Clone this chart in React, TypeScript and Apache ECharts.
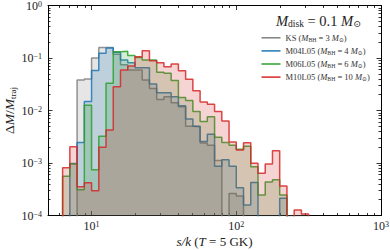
import React, { useEffect, useRef } from "react";
import * as echarts from "echarts";

// log10 of histogram bin edges (s/k), 0.05 dex bins
const binEdgesLog10 = [
  0.8, 0.85, 0.9, 0.95, 1.0, 1.05, 1.1, 1.15, 1.2, 1.25, 1.3, 1.35, 1.4, 1.45,
  1.5, 1.55, 1.6, 1.65, 1.7, 1.75, 1.8, 1.85, 1.9, 1.95, 2.0, 2.05, 2.1, 2.15,
  2.2, 2.25, 2.3, 2.35, 2.4, 2.45, 2.5,
];

const seriesNames = ["KS", "M04L05", "M06L05", "M10L05"];
const bhMasses = ["3", "4", "6", "10"];
const seriesColors = ["#808080", "#1f77b4", "#2ca02c", "#d62728"];

// log10(ΔM/M_traj) per bin (null = empty bin)
const ksLog = [
  null, null, -1.42, -1.4, -1.0, -0.8, -0.8, -0.93, -1.13, -1.23, -1.23, -1.42,
  -1.58, -1.79, -1.74, -1.85, -1.93, -2.3, -2.31, -2.62, -2.66, -2.95, null,
  -3.58, -3.63, null, null, null, null, null, null, null, null, null,
];
const m04Log = [
  null, -3.01, -2.61, -1.83, -1.24, -0.91, -0.81, -0.89, -1.04, -1.09, -1.185,
  -1.185, -1.495, -1.66, -1.66, -1.74, -1.91, -2.16, -2.3, -2.59, -2.45, -3.06,
  -2.94, -3.06, -3.47, -3.8, -3.37, null, null, null, -3.67, null, null, null,
];
const m06Log = [
  -3.25, -3.02, -3.51, -1.9, -3.13, -2.49, -1.48, -0.88, -0.87, -0.95, -0.99,
  -1.04, -1.04, -1.27, -1.29, -1.43, -1.75, -1.81, -2.02, -2.21, -2.12, -2.51,
  -2.61, -2.66, -2.74, -2.68, -3.07, -3.61, -3.36, -3.32, -3.61, null, null,
  null,
];
const m10Log = [
  -3.09, -2.69, -3.45, -3.375, -3.53, -2.7, -2.37, -1.547, -1.23, -1.15, -0.975,
  -0.861, -1.05, -1.09, -1.166, -1.114, -1.242, -1.406, -1.623, -1.84, -1.88,
  -2.02, -2.2, -2.6, -2.75, -2.613, -3.006, -3.196, -3.02, -2.766, -3.438, null,
  -3.895, -3.97,
];
const allLogs = [ksLog, m04Log, m06Log, m10Log];

const xMajorTicks = [10, 100, 1000];
const xMinorTicks = [
  6, 7, 8, 9, 20, 30, 40, 50, 60, 70, 80, 90, 200, 300, 400, 500, 600, 700, 800,
  900,
];
const yMajorTicks = [1e-4, 1e-3, 1e-2, 1e-1, 1];
const yMinorTicks = [
  2e-4, 3e-4, 4e-4, 5e-4, 6e-4, 7e-4, 8e-4, 9e-4, 2e-3, 3e-3, 4e-3, 5e-3, 6e-3,
  7e-3, 8e-3, 9e-3, 2e-2, 3e-2, 4e-2, 5e-2, 6e-2, 7e-2, 8e-2, 9e-2, 0.2, 0.3,
  0.4, 0.5, 0.6, 0.7, 0.8, 0.9,
];

const SERIF = "'Liberation Serif', 'DejaVu Serif', serif";
const FLOOR = 1e-6;

function buildSteps(logs: (number | null)[]) {
  const pts: number[][] = [[Math.pow(10, binEdgesLog10[0]), FLOOR]];
  logs.forEach((v, i) => {
    pts.push([Math.pow(10, binEdgesLog10[i]), v == null ? FLOOR : Math.pow(10, v)]);
  });
  pts.push([Math.pow(10, binEdgesLog10[logs.length]), FLOOR]);
  return pts;
}

function powLabel(v: number) {
  const e = Math.round(Math.log10(v));
  const s = e < 0 ? "\u2212" + -e : String(e);
  return `{b|10}{s|${s}}`;
}

const labelRich = {
  b: { fontFamily: SERIF, fontSize: 12, lineHeight: 11, color: "#222" },
  s: { fontFamily: SERIF, fontSize: 8, lineHeight: 2, verticalAlign: "top", color: "#222" },
};

export default function App() {
  const ref = useRef<HTMLDivElement>(null);
  useEffect(() => {
    if (!ref.current) return;
    const chart = echarts.init(ref.current, undefined, { renderer: "svg" });

    const tickLine = { color: "#000", width: 0.8 };
    const axisLine = { show: true, onZero: false, lineStyle: { color: "#000", width: 1 } };
    const xCommon = { type: "log", logBase: 10, min: 5, max: 1000, splitLine: { show: false }, minorTick: { show: false } };
    const yCommon = { type: "log", logBase: 10, min: 1e-4, max: 1, splitLine: { show: false }, minorTick: { show: false } };

    const option: any = {
      animation: false,
      grid: { left: 48, right: 9, top: 5.5, bottom: 34.5, containLabel: false, outerBoundsMode: "none" },
      title: {
        text: "{i|M}{sb|disk}{r| = 0.1 }{i|M}{sb|\u2299}",
        left: 271,
        top: 8,
        textStyle: {
          fontWeight: "normal",
          rich: {
            i: { fontFamily: SERIF, fontStyle: "italic", fontWeight: "normal", fontSize: 14.5, lineHeight: 16, color: "#222" },
            r: { fontFamily: SERIF, fontWeight: "normal", fontSize: 14.5, lineHeight: 16, color: "#222" },
            sb: { fontFamily: SERIF, fontWeight: "normal", fontSize: 9.5, lineHeight: 10, verticalAlign: "bottom", color: "#222" },
          },
        },
      },
      legend: {
        show: true,
        orient: "vertical",
        left: 256.5,
        top: 28.3,
        itemWidth: 19,
        itemHeight: 1.5,
        itemGap: 3.6,
        icon: "rect",
        selectedMode: false,
        data: seriesNames,
        formatter: (name: string) => {
          const i = seriesNames.indexOf(name);
          return `{r|${name} (}{i|M}{sb|BH}{r| = ${bhMasses[i]} }{i|M}{sb|\u2299}{r|)}`;
        },
        textStyle: {
          rich: {
            r: { fontFamily: SERIF, fontSize: 8.5, lineHeight: 10, color: "#333" },
            i: { fontFamily: SERIF, fontStyle: "italic", fontSize: 8.5, lineHeight: 10, color: "#333" },
            sb: { fontFamily: SERIF, fontSize: 5.8, lineHeight: 7, verticalAlign: "bottom", color: "#333" },
          },
        },
      },
      xAxis: [
        {
          ...xCommon,
          position: "bottom",
          axisLine,
          axisTick: { show: true, inside: true, length: 4.5, lineStyle: tickLine, customValues: xMajorTicks },
          axisLabel: { show: true, margin: 5, customValues: xMajorTicks, formatter: powLabel, rich: labelRich },
          name: "{i|s/k} {r|(}{i|T}{r| = 5 GK)}",
          nameLocation: "middle",
          nameGap: 19,
          nameMoveOverlap: false,
          nameTextStyle: {
            rich: {
              i: { fontFamily: SERIF, fontStyle: "italic", fontSize: 13, lineHeight: 14, color: "#222" },
              r: { fontFamily: SERIF, fontSize: 13, lineHeight: 14, color: "#222" },
            },
          },
        },
        {
          ...xCommon,
          position: "bottom",
          axisLine: { show: false, onZero: false },
          axisTick: { show: true, inside: true, length: 2.5, lineStyle: tickLine, customValues: xMinorTicks },
          axisLabel: { show: false },
        },
        {
          ...xCommon,
          position: "top",
          axisLine,
          axisTick: { show: true, inside: true, length: 4.5, lineStyle: tickLine, customValues: xMajorTicks },
          axisLabel: { show: false },
        },
        {
          ...xCommon,
          position: "top",
          axisLine: { show: false, onZero: false },
          axisTick: { show: true, inside: true, length: 2.5, lineStyle: tickLine, customValues: xMinorTicks },
          axisLabel: { show: false },
        },
      ],
      yAxis: [
        {
          ...yCommon,
          position: "left",
          axisLine,
          axisTick: { show: true, inside: true, length: 4.5, lineStyle: tickLine, customValues: yMajorTicks },
          axisLabel: { show: true, margin: 6, customValues: yMajorTicks, formatter: powLabel, rich: labelRich },
          name: "{r|\u0394}{i|M}{r|/}{i|M}{sb|traj}",
          nameLocation: "middle",
          nameGap: 31,
          nameMoveOverlap: false,
          nameTextStyle: {
            rich: {
              i: { fontFamily: SERIF, fontStyle: "italic", fontSize: 13.5, lineHeight: 15, color: "#222" },
              r: { fontFamily: SERIF, fontSize: 13.5, lineHeight: 15, color: "#222" },
              sb: { fontFamily: SERIF, fontSize: 9, lineHeight: 9, verticalAlign: "bottom", color: "#222" },
            },
          },
        },
        {
          ...yCommon,
          position: "left",
          axisLine: { show: false, onZero: false },
          axisTick: { show: true, inside: true, length: 2.5, lineStyle: tickLine, customValues: yMinorTicks },
          axisLabel: { show: false },
        },
        {
          ...yCommon,
          position: "right",
          axisLine,
          axisTick: { show: true, inside: true, length: 4.5, lineStyle: tickLine, customValues: yMajorTicks },
          axisLabel: { show: false },
        },
        {
          ...yCommon,
          position: "right",
          axisLine: { show: false, onZero: false },
          axisTick: { show: true, inside: true, length: 2.5, lineStyle: tickLine, customValues: yMinorTicks },
          axisLabel: { show: false },
        },
      ],
      series: seriesNames.map((name, i) => ({
        name,
        type: "line",
        step: "end",
        symbol: "none",
        xAxisIndex: 0,
        yAxisIndex: 0,
        clip: true,
        silent: true,
        color: seriesColors[i],
        data: buildSteps(allLogs[i]),
        lineStyle: { color: seriesColors[i], width: 1.5, opacity: 0.85 },
        itemStyle: { color: seriesColors[i] },
        areaStyle: { color: seriesColors[i], opacity: 0.2, origin: "start" },
        z: 2 + i,
      })),
    };

    chart.setOption(option);
    return () => chart.dispose();
  }, []);

  return (
    <div
      ref={ref}
      style={{ position: "absolute", left: 0, top: 0, width: 390, height: 250 }}
    />
  );
}
